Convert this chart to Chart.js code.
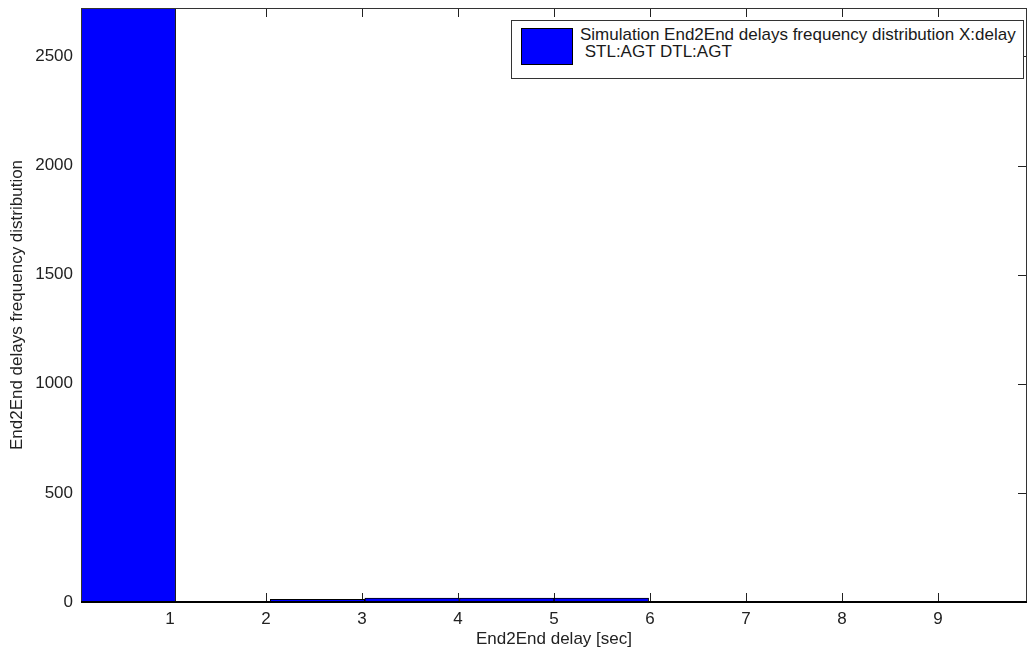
<!DOCTYPE html>
<html>
<head>
<meta charset="utf-8">
<script src="https://cdn.jsdelivr.net/npm/chart.js@4.4.1/dist/chart.umd.min.js"></script>
<style>
    body { margin: 0; background: #fff; }
    #wrap { position: relative; width: 1028px; height: 654px; }
    #legendBox {
        position: absolute; left: 511px; top: 20px; width: 511px; height: 57px;
        border: 1px solid #333; background: #fff;
        font-family: "Liberation Sans", Arial, sans-serif; font-size: 17px; color: #1a1a1a;
    }
    #legendBox .swatch {
        position: absolute; left: 9px; top: 7px; width: 52px; height: 37px;
        background: #0000ff; border: 1px solid #000; box-sizing: border-box;
    }
    #legendBox .txt { position: absolute; left: 68px; top: 5px; line-height: 17px; white-space: pre; }
</style>
</head>
<body>
<div id="wrap">
    <canvas id="myChart"></canvas>
    <div id="legendBox"><div class="swatch"></div><div class="txt" id="legendText"></div></div>
</div>
<script>
// histogram bins (x = bin centre in sec), counts
var binCenters = [0.566, 1.551, 2.537, 3.522, 4.508, 5.493, 6.479, 7.464, 8.450, 9.435];
var counts = [2722, 0, 12, 18, 18, 18, 0, 0, 0, 0];
var xTicks = [1, 2, 3, 4, 5, 6, 7, 8, 9];
var yTicks = [0, 500, 1000, 1500, 2000, 2500];
var seriesLabel = ['Simulation End2End delays frequency distribution X:delay', ' STL:AGT DTL:AGT'];

var xMin = 0.073, xMax = 9.927, yMax = 2722;
var fontFam = '"Liberation Sans", Arial, sans-serif';

document.getElementById('legendText').textContent = seriesLabel.join('\n');

// MATLAB style box with ticks pointing inward
var matlabFrame = {
    id: 'matlabFrame',
    beforeDatasetsDraw: function (chart) {
        var c = chart.ctx, a = chart.chartArea;
        var xs = chart.scales.x, ys = chart.scales.y;
        var len = 9;
        c.save();
        c.strokeStyle = '#222';
        c.lineWidth = 1;
        c.beginPath();
        xTicks.forEach(function (v) {
            var px = Math.round(xs.getPixelForValue(v)) + 0.5;
            c.moveTo(px, a.bottom); c.lineTo(px, a.bottom - len);
            c.moveTo(px, a.top); c.lineTo(px, a.top + len);
        });
        yTicks.forEach(function (v) {
            var py = Math.round(ys.getPixelForValue(v)) + 0.5;
            c.moveTo(a.left, py); c.lineTo(a.left + len, py);
            c.moveTo(a.right, py); c.lineTo(a.right - len, py);
        });
        c.stroke();
        c.restore();
    },
    afterDatasetsDraw: function (chart) {
        var c = chart.ctx, a = chart.chartArea;
        c.save();
        c.strokeStyle = '#333';
        c.lineWidth = 1;
        c.strokeRect(a.left + 0.5, a.top + 0.5, a.right - a.left - 1, a.bottom - a.top);
        c.lineWidth = 2;
        c.strokeStyle = '#000';
        c.beginPath();
        c.moveTo(a.left, a.bottom); c.lineTo(a.right, a.bottom);
        c.stroke();
        c.restore();
    }
};

var ctx = document.getElementById('myChart').getContext('2d');
var myChart = new Chart(ctx, {
    type: 'bar',
    data: {
        datasets: [{
            label: seriesLabel.join(' '),
            data: binCenters.map(function (x, i) { return { x: x, y: counts[i] }; }),
            backgroundColor: '#0000ff',
            borderColor: '#000',
            borderWidth: 1,
            borderSkipped: 'bottom',
            barPercentage: 1,
            categoryPercentage: 1
        }]
    },
    options: {
        responsive: true,
        maintainAspectRatio: false,
        animation: false,
        layout: { padding: { top: 0, right: 1, left: 0, bottom: 0 } },
        plugins: {
            legend: { display: false },
            tooltip: { enabled: false }
        },
        scales: {
            x: {
                type: 'linear',
                min: xMin,
                max: xMax,
                offset: false,
                afterBuildTicks: function (s) { s.ticks = xTicks.map(function (v) { return { value: v }; }); },
                afterFit: function (s) { s.height = 52; s.paddingLeft = 0; s.paddingRight = 0; },
                grid: { display: false, drawTicks: false },
                border: { display: false },
                ticks: {
                    color: '#222', padding: 7, maxRotation: 0, autoSkip: false,
                    font: { family: fontFam, size: 17 },
                    callback: function (v) { return String(v); }
                },
                title: {
                    display: true, text: 'End2End delay [sec]', color: '#222',
                    padding: { top: 0, bottom: 4 },
                    font: { family: fontFam, size: 17 }
                }
            },
            y: {
                min: 0,
                max: yMax,
                afterBuildTicks: function (s) { s.ticks = yTicks.map(function (v) { return { value: v }; }); },
                afterFit: function (s) { s.width = 81; s.paddingTop = 8; s.paddingBottom = 0; },
                grid: { display: false, drawTicks: false },
                border: { display: false },
                ticks: {
                    color: '#222', padding: 8,
                    font: { family: fontFam, size: 17 },
                    callback: function (v) { return String(v); }
                },
                title: {
                    display: true, text: 'End2End delays frequency distribution', color: '#222',
                    padding: { top: 7, bottom: 0 },
                    font: { family: fontFam, size: 17 }
                }
            }
        }
    },
    plugins: [matlabFrame]
});
</script>
</body>
</html>
